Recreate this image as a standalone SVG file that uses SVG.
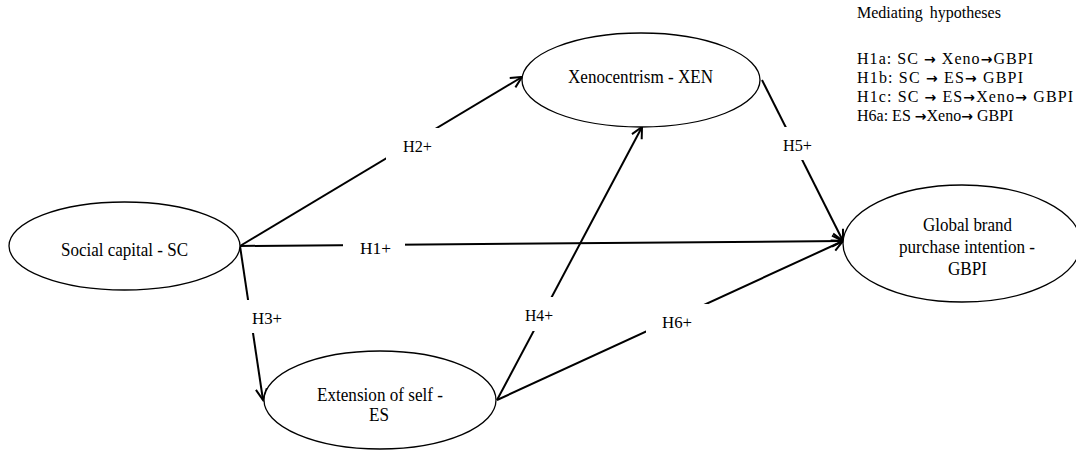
<svg xmlns="http://www.w3.org/2000/svg" width="1076" height="450" viewBox="0 0 1076 450">
  <style>
    .node { fill: #ffffff; stroke: #000000; stroke-width: 1.3; }
    .edge { fill: none; stroke: #000000; stroke-width: 2; }
    .t { font-family: "Liberation Serif", "Times New Roman", serif; font-size: 19px; fill: #000000; }
    .lab { font-family: "Liberation Serif", "Times New Roman", serif; font-size: 16px; fill: #000000; }
    .med { font-family: "Liberation Serif", "Times New Roman", serif; font-size: 16px; fill: #000000; }
    .ar { font-family: "DejaVu Sans", sans-serif; font-weight: bold; font-size: 14px; }
    .box { fill: #ffffff; stroke: none; }
  </style>
  <defs>
    <marker id="arr" markerUnits="userSpaceOnUse" markerWidth="14" markerHeight="14" viewBox="0 0 14 14" refX="12" refY="7" orient="auto">
      <path d="M1,1.5 L12,7 L1,12.5" fill="none" stroke="#000000" stroke-width="2"/>
    </marker>
  </defs>
  <rect x="0" y="0" width="1076" height="450" fill="#ffffff"/>

  <g id="connectors">
    <line class="edge" x1="240" y1="246" x2="522" y2="77" marker-end="url(#arr)"/>
    <line class="edge" x1="240" y1="246" x2="843" y2="241" marker-end="url(#arr)"/>
    <line class="edge" x1="240" y1="246" x2="263" y2="400" marker-end="url(#arr)"/>
    <line class="edge" x1="497" y1="400" x2="642" y2="127" marker-end="url(#arr)"/>
    <line class="edge" x1="497" y1="400" x2="843" y2="241" marker-end="url(#arr)"/>
    <line class="edge" x1="762" y1="80" x2="843" y2="241" marker-end="url(#arr)"/>
    <g id="labels">
      <rect class="box" x="386" y="128" width="63" height="34"/>
      <text class="lab" x="403" y="152" textLength="29" lengthAdjust="spacingAndGlyphs">H2+</text>
      <rect class="box" x="343" y="230" width="62" height="34"/>
      <text class="lab" x="360" y="254" textLength="31" lengthAdjust="spacingAndGlyphs">H1+</text>
      <rect class="box" x="236" y="300" width="62" height="33"/>
      <text class="lab" x="252" y="324" textLength="30" lengthAdjust="spacingAndGlyphs">H3+</text>
      <rect class="box" x="508" y="297" width="62" height="34"/>
      <text class="lab" x="525" y="321" textLength="28" lengthAdjust="spacingAndGlyphs">H4+</text>
      <rect class="box" x="646" y="304" width="62" height="34"/>
      <text class="lab" x="662" y="328" textLength="30" lengthAdjust="spacingAndGlyphs">H6+</text>
      <rect class="box" x="766" y="127" width="62" height="33"/>
      <text class="lab" x="783" y="151" textLength="29" lengthAdjust="spacingAndGlyphs">H5+</text>
    </g>
  </g>

  <g id="node-sc">
    <ellipse class="node" cx="124.5" cy="246" rx="115.5" ry="44"/>
    <text class="t" x="61" y="256" textLength="127" lengthAdjust="spacingAndGlyphs">Social capital - SC</text>
  </g>

  <g id="node-xen">
    <ellipse class="node" cx="641" cy="80" rx="119" ry="47"/>
    <text class="t" x="568" y="83" textLength="145" lengthAdjust="spacingAndGlyphs">Xenocentrism - XEN</text>
  </g>

  <g id="node-es">
    <ellipse class="node" cx="380" cy="400" rx="116" ry="49"/>
    <text class="t" x="317" y="401" textLength="126" lengthAdjust="spacingAndGlyphs">Extension of self -</text>
    <text class="t" x="369" y="421" textLength="20" lengthAdjust="spacingAndGlyphs">ES</text>
  </g>

  <g id="node-gbpi">
    <ellipse class="node" cx="962" cy="243.5" rx="119" ry="58.5"/>
    <text class="t" x="923" y="231" textLength="89" lengthAdjust="spacingAndGlyphs">Global brand</text>
    <text class="t" x="899" y="253" textLength="136" lengthAdjust="spacingAndGlyphs">purchase intention -</text>
    <text class="t" x="948" y="275" textLength="39" lengthAdjust="spacingAndGlyphs">GBPI</text>
  </g>

  <g id="mediating">
    <text class="med" x="857" y="18" word-spacing="3">Mediating hypotheses</text>
    <text class="med" x="857" y="64" textLength="176" lengthAdjust="spacing">H1a: SC <tspan class="ar">→</tspan> Xeno<tspan class="ar">→</tspan>GBPI</text>
    <text class="med" x="857" y="83" textLength="166" lengthAdjust="spacing">H1b: SC <tspan class="ar">→</tspan> ES<tspan class="ar">→</tspan> GBPI</text>
    <text class="med" x="857" y="102" textLength="216" lengthAdjust="spacing">H1c: SC <tspan class="ar">→</tspan> ES<tspan class="ar">→</tspan>Xeno<tspan class="ar">→</tspan> GBPI</text>
    <text class="med" x="857" y="121">H6a: ES <tspan class="ar">→</tspan>Xeno<tspan class="ar">→</tspan> GBPI</text>
  </g>
</svg>
